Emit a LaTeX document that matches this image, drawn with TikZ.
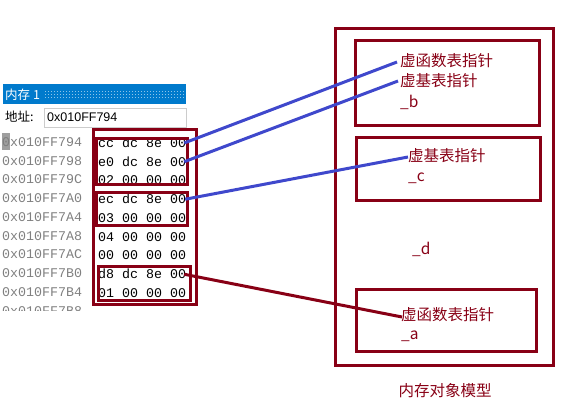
\documentclass[tikz,border=0pt]{standalone}
\usepackage{fontspec}
\setmainfont{Noto Sans CJK SC}
\newfontfamily\monof{Liberation Mono}
\newfontfamily\uisans{Liberation Sans}
\definecolor{dred}{RGB}{136,0,21}
\definecolor{indigo}{RGB}{63,72,204}
\definecolor{titleblue}{RGB}{0,122,204}
\begin{document}
\begin{tikzpicture}[x=1pt,y=-1pt,
  redbox/.style={draw=dred, line width=3pt, inner sep=0, rectangle},
  addr/.style={anchor=west, inner sep=0, text=gray, font=\monof\fontsize{13.3}{14}\selectfont},
  hex/.style={anchor=west, inner sep=0, text=black, font=\monof\fontsize{13.3}{14}\selectfont},
  cjk/.style={anchor=west, inner sep=0, text=dred, font=\fontsize{15.5}{17}\selectfont},
  blueline/.style={draw=indigo, line width=3pt},
  redline/.style={draw=dred, line width=3pt}]
\useasboundingbox (0,0) rectangle (576,402);
% ---- screenshot part
\begin{scope}
\clip (0,83) rectangle (200,310);
\fill[titleblue] (3,84) rectangle (186,104);
\foreach \yy in {91,94,97} {
  \draw[titleblue!45!white, line width=1pt, dash pattern=on 1pt off 2pt] (45,\yy) -- (185,\yy);
}
\node[anchor=west, inner sep=0, text=white, font=\fontsize{12.5}{13}\selectfont] (title) at (5,95) {内存 1};
\node[anchor=west, inner sep=0, text=black, font=\fontsize{12.5}{13}\selectfont] (addrlbl) at (5,117) {地址:};
\node[draw=gray!40, anchor=north west, minimum width=142pt, minimum height=19pt, inner sep=0] (addrbox) at (44,108) {};
\node[anchor=west, inner sep=0, text=black, font=\uisans\fontsize{12.5}{13}\selectfont] (addrtxt) at (47,117.5) {0x010FF794};
\fill[gray!75] (2,133) rectangle (10,150);
\node[addr] (a0) at (2,142) {0x010FF794};
\node[addr] (a1) at (2,160.75) {0x010FF798};
\node[addr] (a2) at (2,179.5) {0x010FF79C};
\node[addr] (a3) at (2,198.25) {0x010FF7A0};
\node[addr] (a4) at (2,217) {0x010FF7A4};
\node[addr] (a5) at (2,235.75) {0x010FF7A8};
\node[addr] (a6) at (2,254.5) {0x010FF7AC};
\node[addr] (a7) at (2,273.25) {0x010FF7B0};
\node[addr] (a8) at (2,292) {0x010FF7B4};
\node[addr] (a9) at (2,310.75) {0x010FF7B8};
\node[hex] (h0) at (98,143) {cc dc 8e 00};
\node[hex] (h1) at (98,161.75) {e0 dc 8e 00};
\node[hex] (h2) at (98,180.5) {02 00 00 00};
\node[hex] (h3) at (98,199.25) {ec dc 8e 00};
\node[hex] (h4) at (98,218) {03 00 00 00};
\node[hex] (h5) at (98,236.75) {04 00 00 00};
\node[hex] (h6) at (98,255.5) {00 00 00 00};
\node[hex] (h7) at (98,274.25) {d8 dc 8e 00};
\node[hex] (h8) at (98,293) {01 00 00 00};
\end{scope}
% memory boxes
\node[redbox, minimum width=103pt, minimum height=175pt] (mo) at (144.5,216.5) {};
\node[redbox, minimum width=91pt, minimum height=46pt] (mb1) at (141.5,161) {};
\node[redbox, minimum width=91pt, minimum height=33pt] (mb2) at (141.5,208.5) {};
\node[redbox, minimum width=92pt, minimum height=34pt] (mb3) at (144,283) {};
% object model
\node[redbox, minimum width=218pt, minimum height=337pt] (ob) at (444,196.5) {};
\node[redbox, minimum width=184pt, minimum height=85pt] (ob1) at (447,82.5) {};
\node[redbox, minimum width=184pt, minimum height=63pt] (ob2) at (448,168.5) {};
\node[redbox, minimum width=180pt, minimum height=62pt] (ob3) at (446,320) {};
\node[cjk] (t1) at (400,61) {虚函数表指针};
\node[cjk] (t2) at (400,81) {虚基表指针};
\node[cjk] (tb) at (400,102) {\_b};
\node[cjk] (t3) at (408,156) {虚基表指针};
\node[cjk] (tc) at (408,178) {\_c};
\node[cjk] (td) at (412,249) {\_d};
\node[cjk] (t4) at (401,315) {虚函数表指针};
\node[cjk] (ta) at (401,336) {\_a};
\node[inner sep=0, text=dred, font=\fontsize{15.5}{17}\selectfont] (cap) at (445,391) {内存对象模型};
% connectors
\draw[blueline] ([xshift=-2pt]h0.east) -- ([xshift=-3pt,yshift=-1pt]t1.west);
\draw[blueline] ([xshift=-2pt]h1.east) -- ([xshift=-2pt]t2.west);
\draw[blueline] ([xshift=-1pt]h3.east) -- ([xshift=0pt,yshift=-1pt]t3.west);
\draw[redline] ([xshift=-2pt]h7.east) -- ([xshift=1pt,yshift=-2pt]t4.west);
\end{tikzpicture}
\end{document}
